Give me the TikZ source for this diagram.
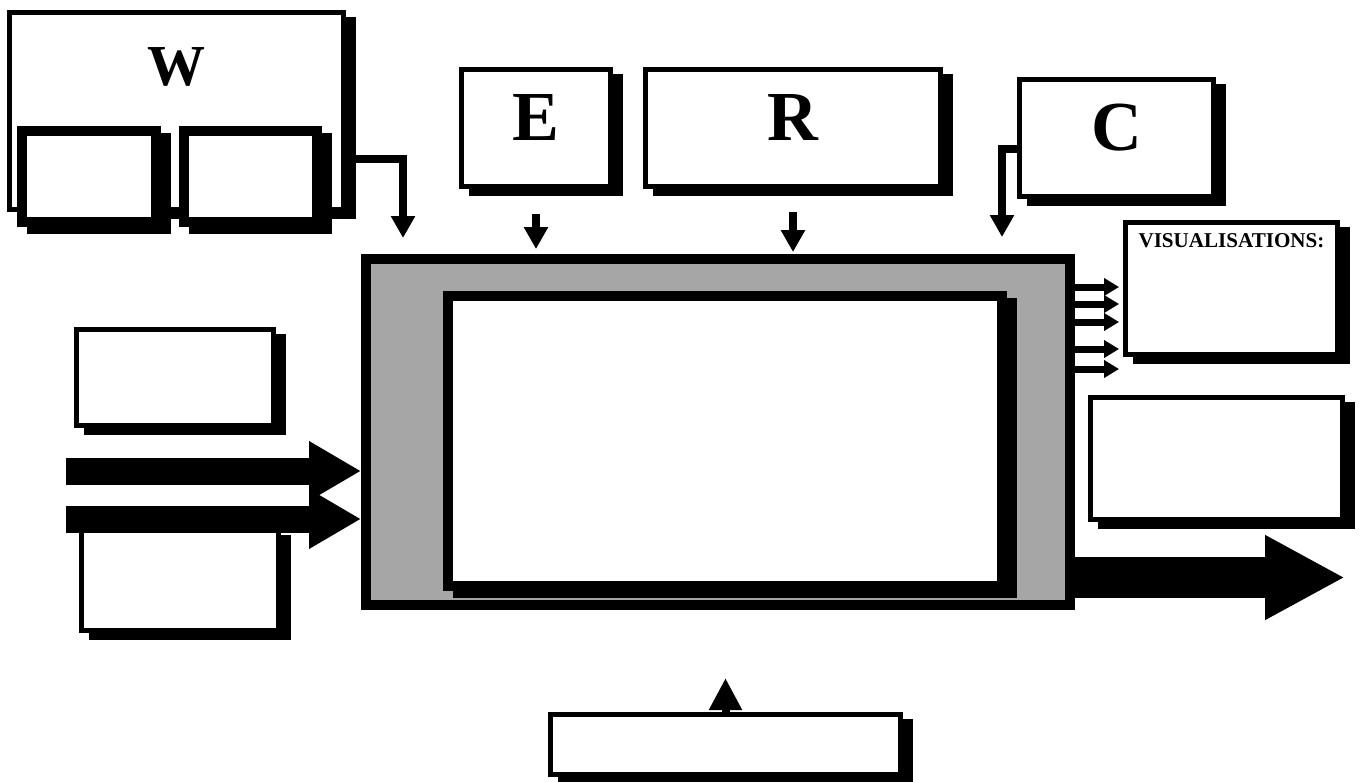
\documentclass[tikz,border=0pt]{standalone}
\usepackage{fontspec}
\setmainfont{Liberation Serif}
\usetikzlibrary{arrows.meta}
\definecolor{mgray}{HTML}{A6A6A6}
\begin{document}
\begin{tikzpicture}[x=0.02cm,y=-0.02cm,
  box/.style={rectangle, draw=black, fill=white, line width=0.1cm, inner sep=0pt},
  thickbox/.style={box, line width=0.2cm},
  shadowed/.style={preaction={draw=black, fill=black, transform canvas={xshift=0.2cm, yshift=-0.14cm}}},
  bigletter/.style={font=\fontsize{40}{48}\selectfont\bfseries},
  bigin/.style={line width=0.54cm, -{Triangle[width=1.12cm,length=1.04cm]}},
  bigout/.style={line width=0.82cm, -{Triangle[width=1.58cm,length=1.6cm]}},
  smallout/.style={line width=0.14cm, -{Triangle[width=0.34cm,length=0.3cm]}},
  feed/.style={line width=0.16cm, -{Triangle[width=0.46cm,length=0.44cm]}},
  upfeed/.style={line width=0.16cm, -{Triangle[width=0.62cm,length=0.64cm]}}
]
\useasboundingbox (0,0) rectangle (1364,781);

% W group
\node[box, shadowed, minimum width=6.68cm, minimum height=3.94cm,
      font=\fontsize{33}{38}\selectfont\bfseries, text depth=1.78cm] (W) at (176.5,111) {W};
\node[thickbox, shadowed, minimum width=2.68cm, minimum height=1.82cm] (W1) at (89,176.5) {};
\node[thickbox, shadowed, minimum width=2.66cm, minimum height=1.82cm] (W2) at (250.5,176.5) {};

% E, R, C
\node[box, shadowed, minimum width=2.98cm, minimum height=2.34cm, bigletter, text depth=0.44cm] (E) at (536,128) {E};
\node[box, shadowed, minimum width=5.9cm, minimum height=2.34cm, bigletter, text depth=0.44cm] (R) at (793,128) {R};
\node[box, shadowed, minimum width=3.88cm, minimum height=2.34cm, bigletter, text depth=0.42cm] (C) at (1116.5,138) {C};

% main box
\node[rectangle, draw=black, fill=mgray, line width=0.2cm, inner sep=0pt,
      minimum width=14.08cm, minimum height=6.92cm] (main) at (718,432) {};
\node[thickbox, shadowed, minimum width=11.08cm, minimum height=5.8cm] (inner) at (725,441) {};

% right side
\node[box, shadowed, minimum width=4.24cm, minimum height=2.64cm,
      label={[font=\fontsize{12}{14}\selectfont\bfseries, inner sep=0pt, anchor=north, yshift=-0.26cm]north:VISUALISATIONS:}] (vis) at (1231.5,288.5) {};
\node[box, shadowed, minimum width=5.04cm, minimum height=2.44cm] (RM) at (1216.5,458.5) {};

% left side
\node[box, shadowed, minimum width=3.94cm, minimum height=1.92cm] (LT) at (175,377.5) {};
\node[box, shadowed, minimum width=3.94cm, minimum height=2.0cm] (LB) at (180,580.5) {};

% bottom
\node[box, shadowed, minimum width=7.0cm, minimum height=1.2cm] (Bot) at (725.5,744.5) {};

% coordinates for free ends
\coordinate (wtip) at (403,238);
\coordinate (ctip) at (1002,237);
\coordinate (in1) at (66,471);
\coordinate (in2) at (66,519);
\coordinate (out) at (1345,577.5);
\coordinate (bt) at (725.5,678);

% connectors
\draw[feed] (W.east |- 0,159) -| (wtip);
\draw[feed] (C.west |- 0,149) -| (ctip);
\draw[feed, shorten <=0.5cm, shorten >=0.1cm] (E.south) -- (E.south |- main.north);
\draw[feed, shorten <=0.46cm, shorten >=0.04cm] (R.south) -- (R.south |- main.north);

\foreach \yy in {287,304,322,349,369}
  \draw[smallout, shorten >=0.08cm] (main.east |- 0,\yy) -- (vis.west |- 0,\yy);

\draw[bigin] (in1) -- (in1 -| main.west);
\draw[bigin] (in2) -- (in2 -| main.west);
\draw[bigout] (main.east |- out) -- (out);
\draw[upfeed] (Bot.north) -- (bt);
\end{tikzpicture}
\end{document}
